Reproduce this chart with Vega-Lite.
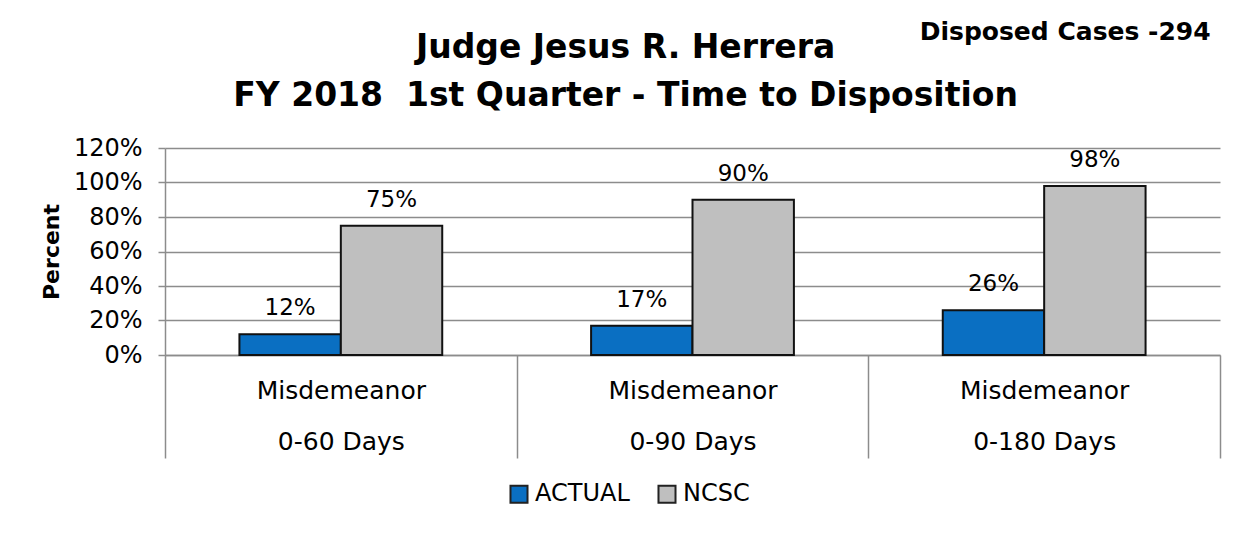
{
  "$schema": "https://vega.github.io/schema/vega-lite/v6.json",
  "width": 1055,
  "height": 207,
  "autosize": {"type": "none"},
  "padding": {"left": 165, "top": 148, "right": 28, "bottom": 178},
  "background": "white",
  "config": {
    "font": "DejaVu Sans",
    "view": {"stroke": null}
  },
  "title": {
    "text": ["Judge Jesus R. Herrera", "FY 2018\u00a0 1st Quarter - Time to Disposition"],
    "font": "DejaVu Sans",
    "fontSize": 33,
    "fontWeight": "bold",
    "lineHeight": 48,
    "color": "#000000",
    "anchor": "middle",
    "frame": "bounds",
    "offset": -93,
    "dx": -5
  },
  "datasets": {
    "bars": [
      {"category": "Misdemeanor|0-60 Days", "series": "ACTUAL", "value": 0.12},
      {"category": "Misdemeanor|0-60 Days", "series": "NCSC", "value": 0.75},
      {"category": "Misdemeanor|0-90 Days", "series": "ACTUAL", "value": 0.17},
      {"category": "Misdemeanor|0-90 Days", "series": "NCSC", "value": 0.90},
      {"category": "Misdemeanor|0-180 Days", "series": "ACTUAL", "value": 0.26},
      {"category": "Misdemeanor|0-180 Days", "series": "NCSC", "value": 0.98}
    ],
    "note": [
      {"category": "Misdemeanor|0-180 Days", "value": 1.826, "note": "Disposed Cases -294"}
    ]
  },
  "encoding": {
    "x": {
      "field": "category",
      "type": "nominal",
      "sort": null,
      "scale": {"paddingInner": 0, "paddingOuter": 0},
      "axis": {
        "title": null,
        "labelExpr": "split(datum.label, '|')",
        "labelAngle": 0,
        "labelFontSize": 25,
        "labelLineHeight": 51,
        "labelColor": "#000000",
        "labelPadding": -80,
        "labelOverlap": false,
        "labelBound": false,
        "tickBand": "extent",
        "tickSize": 103,
        "tickColor": "#8c8c8c",
        "tickWidth": 1.5,
        "domainColor": "#8c8c8c",
        "domainWidth": 1.5
      }
    },
    "y": {
      "field": "value",
      "type": "quantitative",
      "scale": {"domain": [0, 1.2]},
      "axis": {
        "values": [0, 0.2, 0.4, 0.6, 0.8, 1.0, 1.2],
        "format": ".0%",
        "title": "Percent",
        "titleFontSize": 22,
        "titleFontWeight": "bold",
        "titleColor": "#000000",
        "titlePadding": 10,
        "labelFontSize": 24,
        "labelColor": "#000000",
        "labelPadding": 16,
        "tickSize": 7,
        "tickColor": "#8c8c8c",
        "tickWidth": 1.5,
        "domainColor": "#8c8c8c",
        "domainWidth": 1.5,
        "gridColor": "#8c8c8c",
        "gridWidth": 1.5
      }
    }
  },
  "layer": [
    {
      "data": {"name": "bars"},
      "mark": {"type": "bar", "stroke": "#111111", "strokeWidth": 2},
      "encoding": {
        "xOffset": {
          "field": "series",
          "scale": {"paddingOuter": 0.734, "paddingInner": 0}
        },
        "color": {
          "field": "series",
          "type": "nominal",
          "scale": {"domain": ["ACTUAL", "NCSC"], "range": ["#0A6FC2", "#BFBFBF"]},
          "legend": {
            "title": null,
            "orient": "none",
            "legendX": 342,
            "legendY": 334,
            "direction": "horizontal",
            "symbolType": "square",
            "symbolSize": 290,
            "symbolStrokeColor": "#222222",
            "symbolStrokeWidth": 2,
            "labelFontSize": 24,
            "labelColor": "#000000",
            "labelOffset": 4,
            "columnPadding": 24
          }
        }
      }
    },
    {
      "data": {"name": "bars"},
      "mark": {"type": "text", "baseline": "middle", "dy": -26, "fontSize": 23, "color": "#000000"},
      "encoding": {
        "xOffset": {"field": "series"},
        "text": {"field": "value", "type": "quantitative", "format": ".0%"}
      }
    },
    {
      "data": {"name": "note"},
      "mark": {"type": "text", "fontSize": 25, "fontWeight": "bold", "color": "#000000", "align": "center", "baseline": "alphabetic", "dx": 21},
      "encoding": {
        "text": {"field": "note", "type": "nominal"}
      }
    }
  ]
}
